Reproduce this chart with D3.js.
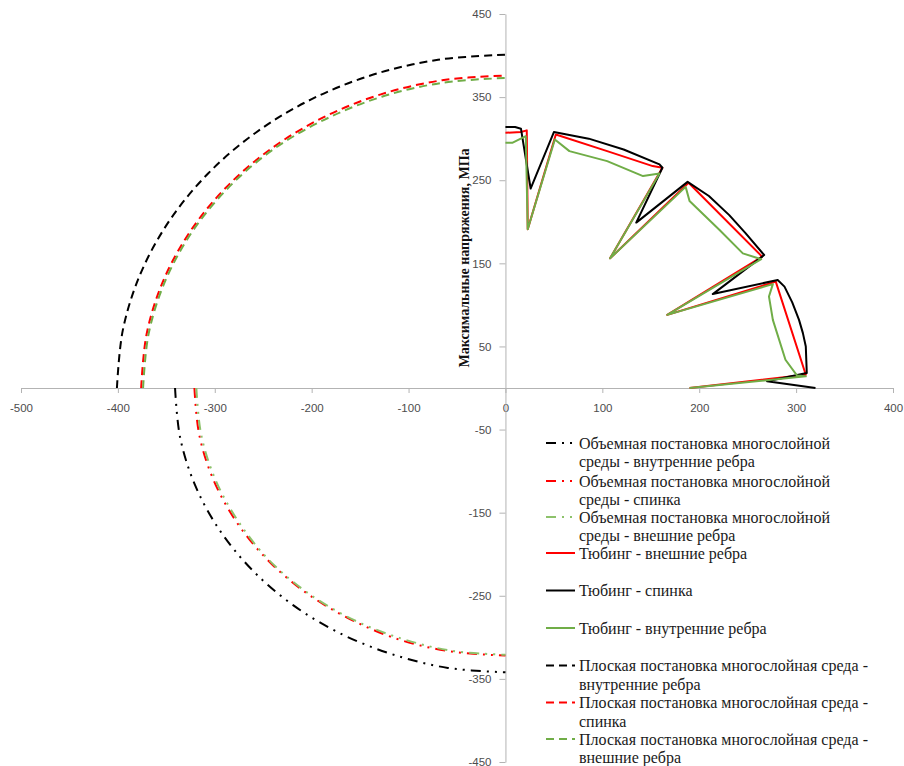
<!DOCTYPE html>
<html>
<head>
<meta charset="utf-8">
<script src="https://cdn.jsdelivr.net/npm/d3@7"></script>
<style>
    body { margin: 0; background: #fff; }
    svg { display: block; }
</style>
</head>
<body>
<div id="chart"></div>
<script>
// angles along the arcs, degrees from the horizontal axis
var arcAngles = [0, 10, 20, 30, 40, 50, 60, 70, 80, 90];

// 3D model of layered medium (lower-left quadrant)
var volInner = [341, 341, 341, 341, 341, 341, 341, 341, 342, 342];
var volBack = [321, 321, 321, 321, 321, 321, 321, 322, 322, 322];
var volOuter = [319, 319, 319, 319, 320, 320, 320, 320, 321, 321];

// plane model of layered medium (upper-left quadrant)
var planeInner = [401, 401, 401, 401, 401, 401, 401, 401, 401, 401];
var planeBack = [376, 376, 376, 376, 376, 376, 376, 376, 376, 376];
var planeOuter = [374, 374, 374, 374, 374, 374, 373, 373, 373, 373];

// tubing, [x, y] in MPa
var tubingOuterRibs = [[0, 307], [16, 308], [22, 310], [23, 191], [52, 305], [105, 285], [152, 267],
    [162, 265], [108, 156], [189, 247], [265, 158], [167, 88], [279, 128], [310, 16], [190, 0]];
var tubingBack = [[0, 314], [10, 314], [16, 312], [26, 240], [50, 308], [86, 300], [122, 287], [159, 269], [162, 265],
    [135, 199], [188, 248], [210, 231], [231, 208], [248, 186], [267, 160], [214, 113], [281, 130], [288, 122],
    [296, 103], [303, 82], [307, 66], [310, 50], [311, 18], [270, 8], [320, 0]];
var tubingInnerRibs = [[0, 295], [7, 295], [21, 303], [23, 191], [51, 299], [66, 285], [105, 273],
    [142, 255], [159, 258], [108, 156], [186, 242], [190, 225], [221, 190], [245, 162], [264, 155],
    [167, 88], [276, 125], [272, 110], [276, 82], [289, 34], [301, 15], [310, 14], [190, 0]];

var xTicks = [-500, -400, -300, -200, -100, 0, 100, 200, 300, 400];
var yTicks = [-450, -350, -250, -150, -50, 50, 150, 250, 350, 450];

var yTitle = "Максимальные напряжения, МПа";

var width = 904,
    height = 766;

var x = d3.scaleLinear().domain([-500, 400]).range([21, 893]);
var y = d3.scaleLinear().domain([-450, 450]).range([762, 14]);

var svg = d3.select("#chart").append("svg")
    .attr("width", width)
    .attr("height", height);

function arc(values, sign) {
    return arcAngles.map(function(a, i) {
        var t = a * Math.PI / 180;
        return [-values[i] * Math.cos(t), sign * values[i] * Math.sin(t)];
    });
}

var dashDotDot = "10,6,2,6,2,6",
    dashed = "8,5";

var series = [
    {name: ["Объемная постановка многослойной", "среды - внутренние ребра"], data: arc(volInner, -1), color: "#000", dash: dashDotDot, justify: 250},
    {name: ["Объемная постановка многослойной", "среды - спинка"], data: arc(volBack, -1), color: "#ff0000", dash: dashDotDot, justify: 250},
    {name: ["Объемная постановка многослойной", "среды - внешние ребра"], data: arc(volOuter, -1), color: "#8dc26b", dash: dashDotDot, justify: 250},
    {name: ["Тюбинг - внешние ребра"], data: tubingOuterRibs, color: "#ff0000", dash: null, linear: true},
    {name: ["Тюбинг - спинка"], data: tubingBack, color: "#000", dash: null, linear: true},
    {name: ["Тюбинг - внутренние ребра"], data: tubingInnerRibs, color: "#70ad47", dash: null, linear: true},
    {name: ["Плоская постановка многослойная среда -", "внутренние ребра"], data: arc(planeInner, 1), color: "#000", dash: dashed, justify: 289},
    {name: ["Плоская постановка многослойная среда -", "спинка"], data: arc(planeBack, 1), color: "#ff0000", dash: dashed, justify: 289},
    {name: ["Плоская постановка многослойная среда -", "внешние ребра"], data: arc(planeOuter, 1), color: "#70ad47", dash: dashed, justify: 289}
];

// axes
var xAxis = svg.append("g")
    .attr("transform", "translate(0," + y(0) + ")")
    .call(d3.axisBottom(x).tickValues(xTicks).tickSizeInner(5).tickSizeOuter(0).tickPadding(11));

var yAxis = svg.append("g")
    .attr("transform", "translate(" + x(0) + ",0)")
    .call(d3.axisLeft(y).tickValues(yTicks).tickSizeInner(6).tickSizeOuter(0).tickPadding(8));

[xAxis, yAxis].forEach(function(g) {
    g.select(".domain").attr("stroke", "#b3b3b3");
    g.selectAll(".tick line").attr("stroke", "#b3b3b3");
    g.selectAll(".tick text")
        .attr("fill", "#4d4d4d")
        .style("font-family", "'Liberation Sans', Arial, sans-serif")
        .style("font-size", "11.5px");
});
// plain minus like the original labels
xAxis.selectAll(".tick text").text(function(d) { return String(d); });
yAxis.selectAll(".tick text").text(function(d) { return String(d); });

svg.append("text")
    .attr("transform", "translate(469,258) rotate(-90)")
    .attr("text-anchor", "middle")
    .style("font-family", "'Liberation Serif', 'Times New Roman', serif")
    .style("font-size", "14px")
    .style("font-weight", "bold")
    .attr("fill", "#111")
    .text(yTitle);

// lines
var line = d3.line()
    .x(function(d) { return x(d[0]); })
    .y(function(d) { return y(d[1]); });

series.forEach(function(s) {
    svg.append("path")
        .datum(s.data)
        .attr("fill", "none")
        .attr("stroke", s.color)
        .attr("stroke-width", 2)
        .attr("stroke-dasharray", s.dash)
        .attr("stroke-linejoin", "round")
        .attr("d", line.curve(s.linear ? d3.curveLinear : d3.curveCatmullRom)(s.data));
});

// legend
var legendRows = [443, 481, 517, 553, 590.5, 628, 665.5, 702.5, 739];

var legend = svg.append("g")
    .style("font-family", "'Liberation Serif', 'Times New Roman', serif")
    .style("font-size", "16px")
    .attr("fill", "#1a1a1a");

series.forEach(function(s, i) {
    var row = legend.append("g").attr("transform", "translate(0," + legendRows[i] + ")");
    row.append("line")
        .attr("x1", 546).attr("x2", 575)
        .attr("y1", 0).attr("y2", 0)
        .attr("stroke", s.color)
        .attr("stroke-width", 2)
        .attr("stroke-dasharray", s.dash);
    s.name.forEach(function(t, j) {
        var txt = row.append("text")
            .attr("x", 579)
            .attr("y", j * 18.8)
            .attr("dy", "0.35em")
            .text(t);
        if (j === 0 && s.justify) {
            var words = t.split(" ").length;
            var extra = (s.justify - txt.node().getComputedTextLength()) / (words - 1);
            if (extra > 0) txt.attr("word-spacing", extra);
        }
    });
});
</script>
</body>
</html>
